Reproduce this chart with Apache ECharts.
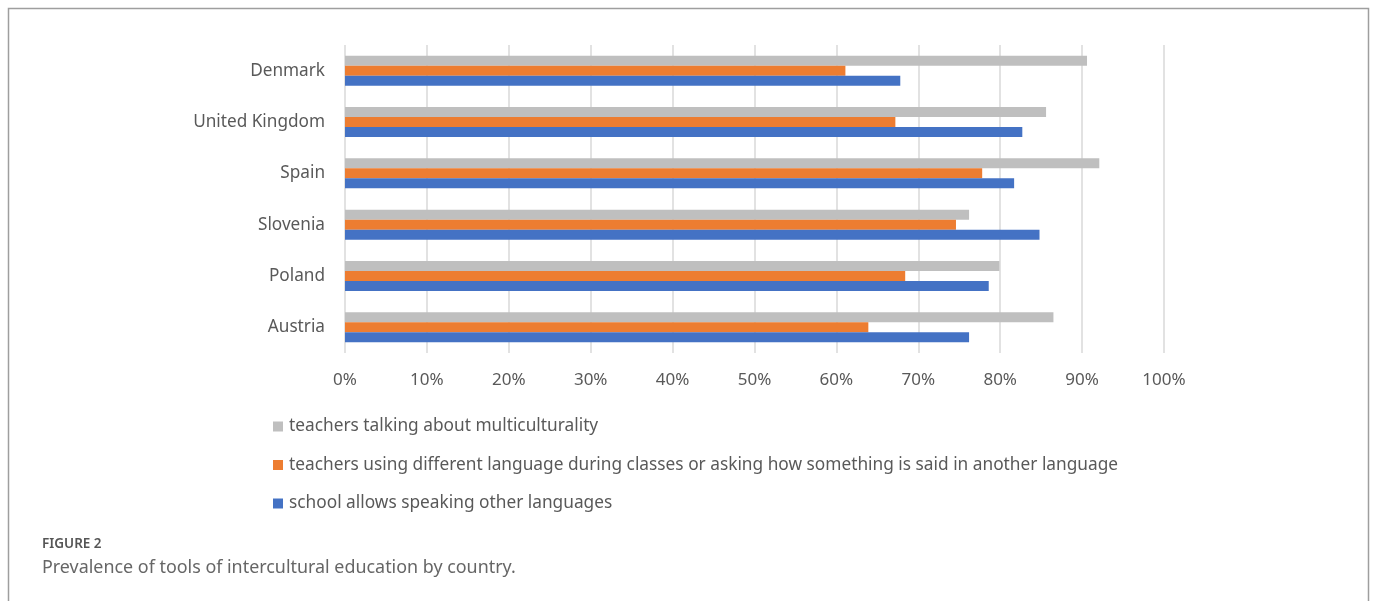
<!DOCTYPE html>
<html>
<head>
<meta charset="utf-8">
<script src="https://cdn.jsdelivr.net/npm/echarts@6/dist/echarts.min.js"></script>
<style>
html,body{margin:0;padding:0;background:#fff;}
#chart{width:1375px;height:601px;}
</style>
</head>
<body>
<div id="chart"></div>
<script>
const countries = ['Denmark', 'United Kingdom', 'Spain', 'Slovenia', 'Poland', 'Austria'];
const seriesNames = [
  'teachers talking about multiculturality',
  'teachers using different language during classes or asking how something is said in another language',
  'school allows speaking other languages'
];
const multiculturality = [90.6, 85.6, 92.1, 76.2, 79.9, 86.5];
const differentLanguage = [61.1, 67.2, 77.8, 74.6, 68.4, 63.9];
const allowsOtherLanguages = [67.8, 82.7, 81.7, 84.8, 78.6, 76.2];
const xTicks = [0, 10, 20, 30, 40, 50, 60, 70, 80, 90, 100];
const colors = ['#BFBFBF', '#ED7D31', '#4472C4'];
const figureLabel = 'FIGURE 2';
const caption = 'Prevalence of tools of intercultural education by country.';

const font = '"Noto Sans", "Open Sans", sans-serif';
const chart = echarts.init(document.getElementById('chart'));
const values = [multiculturality, differentLanguage, allowsOtherLanguages];

chart.setOption({
  animation: false,
  backgroundColor: '#ffffff',
  grid: { left: 345, right: 1375 - 1164, top: 45, bottom: 601 - 353, containLabel: false },
  xAxis: {
    type: 'value', min: xTicks[0], max: xTicks[xTicks.length - 1], interval: 10,
    axisLine: { show: false }, axisTick: { show: false },
    splitLine: { show: true, lineStyle: { color: '#D9D9D9', width: 1.5 } },
    axisLabel: { formatter: v => v + '%', color: '#595959', fontSize: 17, fontFamily: font, margin: 19 }
  },
  yAxis: {
    type: 'category', data: countries, inverse: true,
    axisLine: { show: false }, axisTick: { show: false },
    axisLabel: { color: '#595959', fontSize: 17.2, fontFamily: font, margin: 20 }
  },
  legend: {
    orient: 'vertical', left: 268, top: 413,
    itemWidth: 10, itemHeight: 10, itemGap: 21.5, icon: 'rect',
    textStyle: { color: '#595959', fontSize: 17.3, fontFamily: font, padding: [0, 0, 0, 1] },
    data: seriesNames
  },
  series: seriesNames.map((n, i) => ({
    name: n, type: 'bar', data: values[i], barWidth: 10, barGap: '0%',
    itemStyle: { color: colors[i] }
  })),
  graphic: [
    { type: 'rect', shape: { x: 8.5, y: 8.5, width: 1360, height: 700 }, style: { fill: 'none', stroke: '#9E9E9E', lineWidth: 1.5 }, silent: true },
    { type: 'text', left: 42, top: 537, style: { text: figureLabel, fill: '#555555', font: '600 13.5px ' + font } },
    { type: 'text', left: 42, top: 559, style: { text: caption, fill: '#666666', font: '17.9px ' + font } }
  ]
});
</script>
</body>
</html>
